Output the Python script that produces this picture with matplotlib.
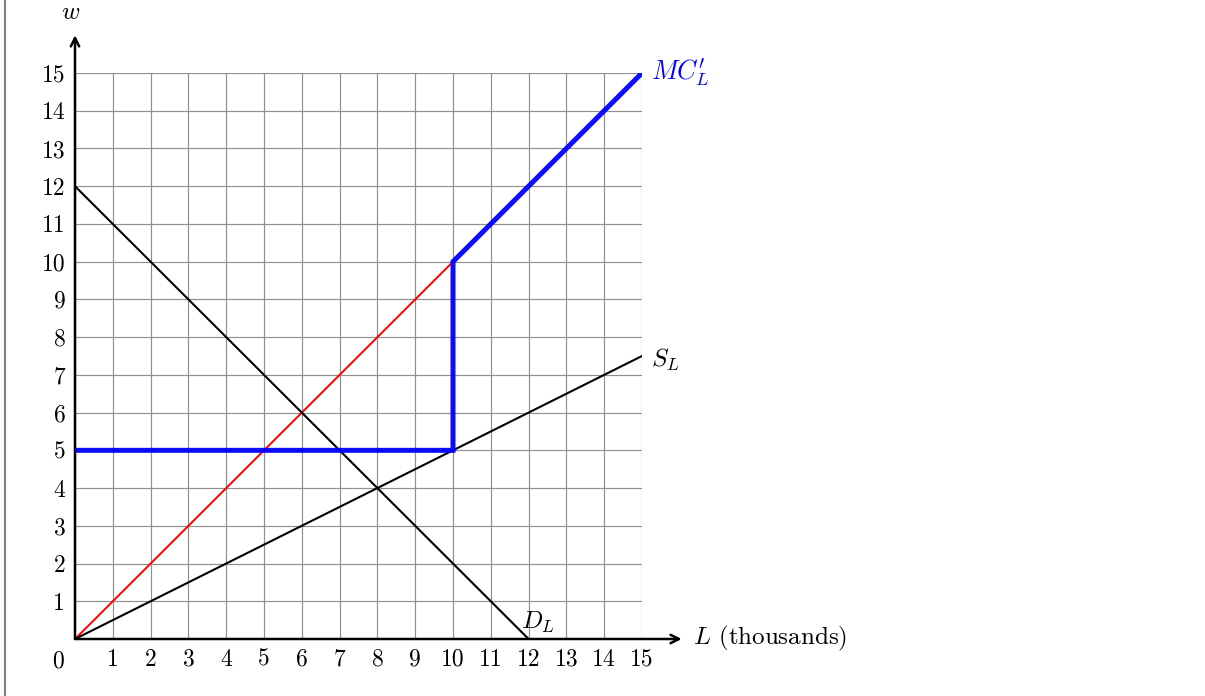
import matplotlib.pyplot as plt
from matplotlib.lines import Line2D

plt.rcParams['font.family'] = 'serif'
plt.rcParams['font.serif'] = ['cmr10', 'DejaVu Serif']
plt.rcParams['mathtext.fontset'] = 'cm'
plt.rcParams['axes.formatter.use_mathtext'] = True

# labour market (quantities in thousands, wages)
ticks = list(range(0, 16))
supply_L = [0, 15]
supply_w = [0, 7.5]
demand_L = [0, 12]
demand_w = [12, 0]
mc_L = [0, 10]
mc_w = [0, 10]
mcp_L = [0, 10, 10, 15]
mcp_w = [5, 5, 10, 15]

fs = 17
lfs = 18

fig = plt.figure(figsize=(12.05, 6.96), dpi=100)
ax = fig.add_axes([75/1205, 57/696, 567/1205, 566/696])
ax.set_xlim(0, 15)
ax.set_ylim(0, 15)
for s in ax.spines.values():
    s.set_visible(False)

ax.set_xticks(ticks)
ax.set_yticks(ticks)
ax.set_xticklabels([''] + [str(t) for t in ticks[1:]])
ax.set_yticklabels([''] + [str(t) for t in ticks[1:]])
ax.tick_params(length=0, labelsize=fs)
ax.tick_params(axis='x', pad=7)
ax.tick_params(axis='y', pad=7)
ax.grid(True, color='#909090', lw=0.85)
ax.set_axisbelow(True)

ax.plot(mc_L, mc_w, color='red', lw=1.4, zorder=3)
ax.plot(supply_L, supply_w, color='black', lw=1.5, zorder=3)
ax.plot(demand_L, demand_w, color='black', lw=1.5, zorder=3)
ax.plot(mcp_L, mcp_w, color='blue', lw=3.6, alpha=0.95, zorder=4,
        solid_joinstyle='miter')

# axes with arrows
ax.annotate('', xy=(16.05, 0), xytext=(0, 0), annotation_clip=False,
            arrowprops=dict(arrowstyle='->', lw=1.8, color='black',
                            shrinkA=0, shrinkB=0, mutation_scale=15))
ax.annotate('', xy=(0, 16.0), xytext=(0, 0), annotation_clip=False,
            arrowprops=dict(arrowstyle='->', lw=1.8, color='black',
                            shrinkA=0, shrinkB=0, mutation_scale=15))

ax.text(-0.45, -0.6, '0', fontsize=fs, ha='center', va='center')
ax.text(-0.12, 16.6, '$w$', fontsize=lfs, ha='center', va='center')
ax.text(16.35, 0.02, '$L$ (thousands)', fontsize=lfs, ha='left', va='center')
ax.text(15.25, 15.0, r"$MC^{\prime}_{L}$", fontsize=lfs + 1, color='blue',
        ha='left', va='center')
ax.text(15.25, 7.4, '$S_L$', fontsize=lfs, ha='left', va='center')
ax.text(12.25, 0.45, '$D_L$', fontsize=lfs, ha='center', va='center')

fig.add_artist(Line2D([5/1205, 5/1205], [0, 1], color='#808080', lw=1.5))

fig.savefig('out.png', dpi=100)
